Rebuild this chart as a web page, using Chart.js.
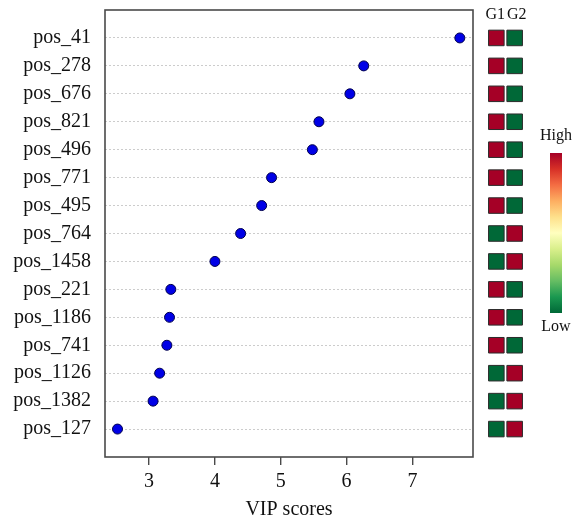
<!DOCTYPE html>
<html>
<head>
<meta charset="utf-8">
<script src="https://cdn.jsdelivr.net/npm/chart.js@4"></script>
<style>
  body { margin: 0; background: #fff; }
  #wrap { position: relative; width: 577px; height: 524px; }
  #vipChart { position: absolute; left: 0; top: 0; }
  #heatChart { position: absolute; left: 478px; top: 0; }
</style>
</head>
<body>
<div id="wrap">
  <canvas id="vipChart" width="577" height="524"></canvas>
  <canvas id="heatChart" width="99" height="524"></canvas>
</div>
<script>
// Variables ordenadas por VIP (de mayor a menor)
const features = ["pos_41", "pos_278", "pos_676", "pos_821", "pos_496", "pos_771", "pos_495",
  "pos_764", "pos_1458", "pos_221", "pos_1186", "pos_741", "pos_1126", "pos_1382", "pos_127"];
const vipScores = [7.72, 6.26, 6.05, 5.58, 5.48, 4.86, 4.71, 4.39, 4.00, 3.33, 3.31, 3.27, 3.16, 3.06, 2.52];
const xTicks = [3, 4, 5, 6, 7];

// Nivel relativo por grupo: 1 = alto, 0 = bajo
const groups = ["G1", "G2"];
const levelG1 = [1, 1, 1, 1, 1, 1, 1, 0, 0, 1, 1, 1, 0, 0, 0];
const levelG2 = [0, 0, 0, 0, 0, 0, 0, 1, 1, 0, 0, 0, 1, 1, 1];
const scaleLabels = ["High", "Low"];

const RED = '#a50026';
const GREEN = '#006837';
const serif = "'Liberation Serif', 'DejaVu Serif', serif";

// Marco completo alrededor del área del gráfico
const boxPlugin = {
  id: 'box',
  afterDraw(chart) {
    const a = chart.chartArea, ctx = chart.ctx;
    ctx.save();
    ctx.strokeStyle = '#4a4a4a';
    ctx.lineWidth = 1.6;
    ctx.strokeRect(a.left, a.top, a.right - a.left, a.bottom - a.top);
    ctx.restore();
  }
};

const vipChart = new Chart(document.getElementById('vipChart'), {
  type: 'scatter',
  data: {
    datasets: [{
      data: features.map((f, i) => ({ x: vipScores[i], y: i })),
      backgroundColor: '#0000e6',
      borderColor: '#00004d',
      borderWidth: 1,
      pointRadius: 5
    }]
  },
  options: {
    responsive: false,
    animation: false,
    layout: { autoPadding: false, padding: { left: 0, right: 104, top: 10, bottom: 2 } },
    plugins: { legend: { display: false }, tooltip: { enabled: false } },
    scales: {
      x: {
        type: 'linear',
        min: 2.33,
        max: 7.92,
        afterBuildTicks: s => { s.ticks = xTicks.map(v => ({ value: v })); },
        afterFit: s => { s.height = 65; },
        border: { display: false },
        grid: { drawOnChartArea: false, drawTicks: true, tickLength: 8, color: '#4a4a4a', lineWidth: 1.4 },
        ticks: { color: '#111', font: { family: serif, size: 20 }, padding: 5 },
        title: { display: true, text: 'VIP scores', color: '#111', font: { family: serif, size: 20 }, padding: { top: 0, bottom: 0 } }
      },
      y: {
        type: 'linear',
        min: -1,
        max: 15,
        reverse: true,
        afterBuildTicks: s => { s.ticks = features.map((f, i) => ({ value: i })); },
        afterFit: s => { s.width = 105; s.paddingTop = 0; s.paddingBottom = 0; },
        border: { display: false, dash: [2, 2] },
        grid: { color: '#cccccc', lineWidth: 1, drawTicks: false },
        ticks: {
          color: '#111',
          font: { family: serif, size: 20 },
          padding: 14,
          callback: v => features[v]
        }
      }
    }
  },
  plugins: [boxPlugin]
});

// Mapa de calor G1 / G2 y escala de color
const area = vipChart.chartArea;

const heatPlugin = {
  id: 'heatExtras',
  afterDraw(chart) {
    const ctx = chart.ctx, x = chart.scales.x;
    ctx.save();
    ctx.fillStyle = '#111';
    ctx.font = "16px " + serif;
    ctx.textAlign = 'center';
    ctx.textBaseline = 'middle';
    groups.forEach((g, j) => ctx.fillText(g, x.getPixelForValue(j) + (j ? 2 : -1), 15));

    const gx = 72, gy = 153, gw = 12, gh = 160;
    const grad = ctx.createLinearGradient(0, gy, 0, gy + gh);
    const stops = ['#a50026', '#d73027', '#f46d43', '#fdae61', '#fee08b', '#ffffbf',
      '#d9ef8b', '#a6d96a', '#66bd63', '#1a9850', '#006837'];
    stops.forEach((c, k) => grad.addColorStop(k / (stops.length - 1), c));
    ctx.fillStyle = grad;
    ctx.fillRect(gx, gy, gw, gh);

    ctx.fillStyle = '#111';
    ctx.font = "16px " + serif;
    ctx.fillText(scaleLabels[0], gx + gw / 2, gy - 17);
    ctx.fillText(scaleLabels[1], gx + gw / 2, gy + gh + 14);
    ctx.restore();
  }
};

new Chart(document.getElementById('heatChart'), {
  type: 'scatter',
  data: {
    datasets: [levelG1, levelG2].map((lv, j) => ({
      data: features.map((f, i) => ({ x: j, y: i })),
      pointStyle: 'rect',
      pointRadius: 11,
      backgroundColor: lv.map(v => v ? RED : GREEN),
      borderColor: '#2b2b2b',
      borderWidth: 1,
      clip: false
    }))
  },
  options: {
    responsive: false,
    animation: false,
    layout: { autoPadding: false, padding: { left: 0, right: 0, top: area.top, bottom: 524 - area.bottom } },
    plugins: { legend: { display: false }, tooltip: { enabled: false } },
    scales: {
      x: { type: 'linear', min: -1, max: 4.4, display: false },
      y: { type: 'linear', min: -1, max: 15, reverse: true, display: false }
    }
  },
  plugins: [heatPlugin]
});
</script>
</body>
</html>
